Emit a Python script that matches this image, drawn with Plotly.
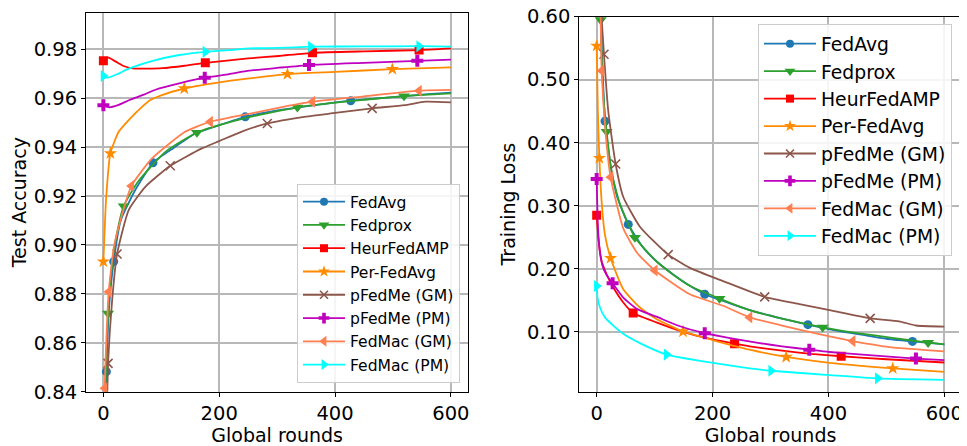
import plotly.graph_objects as go

# ---------------- series meta ----------------
names = ["FedAvg", "Fedprox", "HeurFedAMP", "Per-FedAvg",
         "pFedMe (GM)", "pFedMe (PM)", "FedMac (GM)", "FedMac (PM)"]
colors = ["#1f77b4", "#2ca02c", "#ff0000", "#ff8c00",
          "#8c564b", "#bf00bf", "#ff7f50", "#00ffff"]
symbols = ["circle", "triangle-down", "square", "star",
           "x-thin", "cross", "triangle-left", "triangle-right"]
msizes = [9, 10.5, 9, 10, 9, 10, 10.5, 10.5]

x_ticks = [0, 200, 400, 600]
acc_ticks = [0.84, 0.86, 0.88, 0.90, 0.92, 0.94, 0.96, 0.98]
loss_ticks = [0.10, 0.20, 0.30, 0.40, 0.50, 0.60]

# ---------------- Test accuracy (left) ----------------
acc_fedavg_x = [0, 3, 5.2, 10, 17.8, 30, 55, 85.6, 120, 158.6, 200, 245, 300, 360, 427, 500, 560, 600]
acc_fedavg_y = [0.60, 0.82, 0.8482, 0.875, 0.8932, 0.910, 0.9225, 0.9336, 0.9395, 0.9456, 0.9490, 0.9524, 0.9550, 0.9570, 0.9590, 0.9605, 0.9617, 0.9623]
acc_fedavg_mk = [2, 4, 7, 11, 14]

acc_fedprox_x = [0, 3, 8.1, 15, 22, 35, 60, 107, 161.5, 200, 250, 335, 400, 460, 519, 570, 600]
acc_fedprox_y = [0.60, 0.83, 0.872, 0.892, 0.903, 0.9159, 0.926, 0.9381, 0.946, 0.949, 0.9522, 0.9563, 0.9582, 0.9596, 0.9609, 0.9616, 0.962]
acc_fedprox_mk = [2, 5, 8, 11, 14]

acc_heur_x = [0, 7.5, 20, 35, 50.5, 75, 102, 140, 176, 250, 303, 361, 450, 545, 600]
acc_heur_y = [0.9753, 0.9767, 0.9752, 0.9732, 0.9722, 0.9721, 0.9723, 0.9733, 0.9745, 0.9763, 0.9773, 0.9786, 0.9792, 0.9797, 0.9804]
acc_heur_mk = [0, 8, 11, 13]

acc_per_x = [0, 2, 4.6, 12.1, 26.4, 43.7, 66.7, 81, 100, 139.7, 200, 251.7, 317.8, 400, 498.9, 600]
acc_per_y = [0.8932, 0.905, 0.9184, 0.9375, 0.9463, 0.9511, 0.9565, 0.9593, 0.9612, 0.964, 0.9665, 0.9681, 0.9699, 0.9708, 0.9719, 0.9726]
acc_per_mk = [0, 3, 9, 12, 14]

acc_pgm_x = [0, 3, 8.1, 15, 23.6, 43.7, 72.4, 115.5, 170, 200, 240, 283, 350, 400, 464, 520, 556, 600]
acc_pgm_y = [0.60, 0.80, 0.8516, 0.877, 0.8963, 0.9143, 0.9238, 0.9324, 0.9395, 0.9425, 0.9465, 0.9497, 0.9525, 0.9540, 0.9559, 0.9572, 0.9586, 0.9583]
acc_pgm_mk = [2, 4, 7, 11, 14]

acc_ppm_x = [0, 10.3, 25, 45, 70, 91, 131, 175, 217, 251.7, 303, 355, 450, 542, 600]
acc_ppm_y = [0.9572, 0.9563, 0.9572, 0.9593, 0.9615, 0.9636, 0.9661, 0.9684, 0.9699, 0.9713, 0.9725, 0.9736, 0.9745, 0.9753, 0.9758]
acc_ppm_mk = [0, 7, 11, 13]

acc_mgm_x = [0, 2.3, 9.2, 18, 26.4, 48.3, 84, 141, 184.5, 262, 300, 361, 450, 545, 600]
acc_mgm_y = [0.60, 0.8414, 0.8809, 0.899, 0.9075, 0.9241, 0.9354, 0.9463, 0.9504, 0.9541, 0.9560, 0.9586, 0.9608, 0.9631, 0.9634]
acc_mgm_mk = [1, 2, 5, 8, 11, 13]

acc_mpm_x = [0, 7.5, 25, 45, 85, 131, 176, 217, 251.7, 303, 358, 450, 545, 600]
acc_mpm_y = [0.9691, 0.9684, 0.9700, 0.9722, 0.9753, 0.9777, 0.9790, 0.9797, 0.9804, 0.9806, 0.9811, 0.9812, 0.9813, 0.9811]
acc_mpm_mk = [0, 6, 10, 12]

# ---------------- Training loss (right) ----------------
loss_fedavg_x = [0, 3, 7, 14.3, 20, 25.8, 35, 54.5, 80, 103, 131.8, 160.7, 186.5, 230, 264, 320, 364.5, 402, 460, 500, 545, 600]
loss_fedavg_y = [1.6, 0.95, 0.60, 0.4343, 0.39, 0.355, 0.315, 0.2704, 0.234, 0.2119, 0.191, 0.173, 0.1596, 0.145, 0.1345, 0.121, 0.1114, 0.104, 0.095, 0.089, 0.0848, 0.0801]
loss_fedavg_mk = [3, 7, 12, 16, 20]

loss_fedprox_x = [0, 3, 6.9, 12, 17.2, 25.8, 40, 66, 103, 131.8, 160.7, 212, 264, 320, 390, 450, 510, 572, 600]
loss_fedprox_y = [1.6, 0.9, 0.5948, 0.47, 0.4175, 0.353, 0.303, 0.2496, 0.2119, 0.191, 0.173, 0.1527, 0.1345, 0.121, 0.1072, 0.098, 0.0905, 0.0827, 0.0801]
loss_fedprox_mk = [2, 4, 7, 11, 14, 17]

loss_heur_x = [0, 2.9, 8.6, 17.2, 27, 45.9, 63, 103, 149, 200, 238, 264, 320, 370, 422, 500, 600]
loss_heur_y = [0.285, 0.2485, 0.2119, 0.191, 0.173, 0.1465, 0.1298, 0.115, 0.100, 0.088, 0.0812, 0.0769, 0.070, 0.065, 0.0612, 0.0565, 0.0513]
loss_heur_mk = [0, 6, 10, 14]

loss_per_x = [0, 2, 4.6, 8.6, 14.3, 24, 45.9, 74.6, 103, 149, 200, 264, 327, 402, 511, 600]
loss_per_y = [0.5535, 0.45, 0.3756, 0.306, 0.2538, 0.217, 0.1675, 0.1386, 0.1204, 0.1005, 0.087, 0.0717, 0.0601, 0.0507, 0.0419, 0.0366]
loss_per_mk = [0, 2, 5, 9, 12, 14]

loss_pgm_x = [0, 4, 8.6, 12.6, 20, 32.7, 45.9, 74.6, 123.4, 160.7, 218, 290, 350, 402, 472, 522, 551, 600]
loss_pgm_y = [2.0, 1.0, 0.60, 0.5404, 0.45, 0.3662, 0.3139, 0.2668, 0.2224, 0.2014, 0.1805, 0.1554, 0.144, 0.1345, 0.1214, 0.1167, 0.110, 0.1083]
loss_pgm_mk = [3, 5, 8, 11, 14]

loss_ppm_x = [0, 2, 5, 10, 17.2, 27.5, 45.9, 70, 103, 140, 186.5, 230, 281, 320, 367, 402, 470, 551, 600]
loss_ppm_y = [0.3426, 0.27, 0.23, 0.205, 0.19, 0.1769, 0.1543, 0.136, 0.124, 0.110, 0.0978, 0.090, 0.0821, 0.077, 0.0717, 0.068, 0.063, 0.0576, 0.055]
loss_ppm_mk = [0, 5, 10, 14, 17]

loss_mgm_x = [0, 4, 6.9, 8.6, 15, 24, 45.9, 70, 100.4, 160.7, 218, 264, 320, 402, 442, 505, 600]
loss_mgm_y = [2.0, 0.8, 0.60, 0.5143, 0.42, 0.3453, 0.2642, 0.225, 0.1973, 0.1596, 0.1413, 0.1229, 0.110, 0.0926, 0.0853, 0.0758, 0.0691]
loss_mgm_mk = [3, 5, 8, 11, 14]

loss_mpm_x = [0, 1.5, 5.7, 14.3, 28.7, 45.9, 74.6, 120.6, 189.5, 264, 301, 402, 485, 600]
loss_mpm_y = [0.1727, 0.154, 0.1386, 0.1229, 0.1099, 0.0969, 0.0821, 0.0639, 0.0523, 0.0419, 0.0382, 0.0314, 0.0262, 0.0236]
loss_mpm_mk = [0, 7, 10, 12]

acc_series = [
    (acc_fedavg_x, acc_fedavg_y, acc_fedavg_mk),
    (acc_fedprox_x, acc_fedprox_y, acc_fedprox_mk),
    (acc_heur_x, acc_heur_y, acc_heur_mk),
    (acc_per_x, acc_per_y, acc_per_mk),
    (acc_pgm_x, acc_pgm_y, acc_pgm_mk),
    (acc_ppm_x, acc_ppm_y, acc_ppm_mk),
    (acc_mgm_x, acc_mgm_y, acc_mgm_mk),
    (acc_mpm_x, acc_mpm_y, acc_mpm_mk),
]
loss_series = [
    (loss_fedavg_x, loss_fedavg_y, loss_fedavg_mk),
    (loss_fedprox_x, loss_fedprox_y, loss_fedprox_mk),
    (loss_heur_x, loss_heur_y, loss_heur_mk),
    (loss_per_x, loss_per_y, loss_per_mk),
    (loss_pgm_x, loss_pgm_y, loss_pgm_mk),
    (loss_ppm_x, loss_ppm_y, loss_ppm_mk),
    (loss_mgm_x, loss_mgm_y, loss_mgm_mk),
    (loss_mpm_x, loss_mpm_y, loss_mpm_mk),
]

FONT = "DejaVu Sans"
fig = go.Figure()


def marker_style(i, size):
    m = dict(symbol=symbols[i], size=size, color=colors[i], line=dict(width=0))
    if symbols[i].endswith("-thin"):
        m["line"] = dict(width=1.6, color=colors[i])
    return m


def add_panel(series, xa, ya, legend_name, prefix):
    for i, (xs, ys, mk) in enumerate(series):
        grp = f"{prefix}{i}"
        fig.add_trace(go.Scatter(
            x=xs, y=ys, mode="lines", xaxis=xa, yaxis=ya,
            line=dict(color=colors[i], width=1.8, shape="spline", smoothing=0.5),
            legendgroup=grp, showlegend=False, hoverinfo="skip"))
        fig.add_trace(go.Scatter(
            x=[xs[k] for k in mk], y=[ys[k] for k in mk], mode="markers",
            xaxis=xa, yaxis=ya, marker=marker_style(i, msizes[i]),
            legendgroup=grp, showlegend=False, name=names[i]))
        fig.add_trace(go.Scatter(
            x=[None], y=[None], mode="lines+markers", xaxis=xa, yaxis=ya,
            line=dict(color=colors[i], width=1.8),
            marker=marker_style(i, msizes[i] - 1), name=names[i],
            legendgroup=grp, legend=legend_name, showlegend=True))


add_panel(acc_series, "x", "y", "legend", "A")
add_panel(loss_series, "x2", "y2", "legend2", "B")

# page body has an 8px margin, so the figure is laid out 8px smaller
W, H = 959, 438
OFF = 8
TICK_FS = 19.5
TITLE_FS = 19
axis_common = dict(
    showline=True, mirror=True, linecolor="black", linewidth=1,
    ticks="outside", ticklen=4, tickwidth=1, tickcolor="black",
    showgrid=True, gridcolor="#b8b8b8", gridwidth=1.5,
    zeroline=False, automargin=False, ticklabeloverflow="allow",
    tickfont=dict(family=FONT, size=TICK_FS, color="black"),
)


def px_x(p):
    return (p - OFF) / W


def px_y(p):
    return 1 - (p - OFF) / H


fig.update_layout(
    width=W, height=H,
    margin=dict(l=0, r=0, t=0, b=0),
    paper_bgcolor="white", plot_bgcolor="white",
    font=dict(family=FONT, color="black"),
    xaxis=dict(domain=[px_x(86), px_x(468.3)], range=[-30, 630], tickvals=x_ticks,
               title=dict(text="Global rounds", font=dict(family=FONT, size=TITLE_FS), standoff=2),
               **axis_common),
    yaxis=dict(domain=[px_y(391.7), px_y(12.7)], range=[0.84, 0.995],
               tickvals=acc_ticks, tickformat=".2f",
               title=dict(text="Test Accuracy", font=dict(family=FONT, size=TITLE_FS), standoff=6),
               **axis_common),
    xaxis2=dict(domain=[px_x(579.3), px_x(961.7)], range=[-30, 630], tickvals=x_ticks,
                anchor="y2",
                title=dict(text="Global rounds", font=dict(family=FONT, size=TITLE_FS), standoff=2),
                **axis_common),
    yaxis2=dict(domain=[px_y(391.7), px_y(16.5)], range=[0.005, 0.6002],
                tickvals=loss_ticks, tickformat=".2f", anchor="x2",
                title=dict(text="Training Loss", font=dict(family=FONT, size=TITLE_FS), standoff=6),
                **axis_common),
    legend=dict(x=px_x(460), y=px_y(383), xanchor="right", yanchor="bottom",
                bgcolor="rgba(255,255,255,0.85)", bordercolor="#cccccc", borderwidth=1,
                font=dict(family=FONT, size=15.6, color="black"),
                itemwidth=42, traceorder="normal"),
    legend2=dict(x=px_x(952), y=px_y(24), xanchor="right", yanchor="top",
                 bgcolor="rgba(255,255,255,0.85)", bordercolor="#cccccc", borderwidth=1,
                 font=dict(family=FONT, size=18.8, color="black"),
                 itemwidth=52, traceorder="normal"),
)

fig.write_html("out.html")
